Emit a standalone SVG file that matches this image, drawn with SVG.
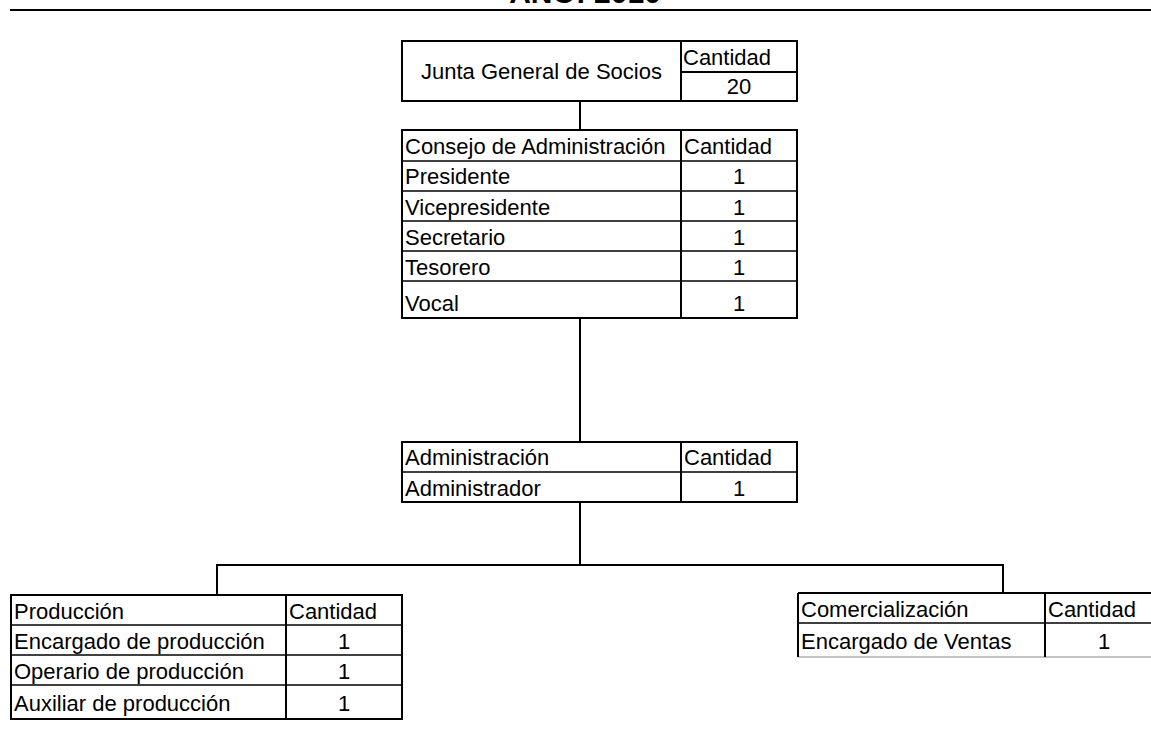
<svg xmlns="http://www.w3.org/2000/svg" width="1151" height="742" viewBox="0 0 1151 742">
<style>
text{font-family:"Liberation Sans",Arial,sans-serif;font-size:22px;fill:#000}
.t{font-weight:bold;font-size:30px}
.c{text-anchor:middle}
.b{fill:#fff;stroke:#000;stroke-width:2}
.d{stroke:#000;stroke-width:2;fill:none}
.r{stroke:#000;stroke-width:1.3}
.g{stroke:#888;stroke-width:1}
</style>
<rect width="1151" height="742" fill="#fff"/>
<text class="t c" x="585" y="3">AÑO: 2010</text>
<line class="d" x1="10" y1="10" x2="1151" y2="10"/>
<g id="connectors">
<line class="d" x1="580" y1="101" x2="580" y2="130"/>
<line class="d" x1="580" y1="318" x2="580" y2="442"/>
<polyline class="d" points="580,502 580,565"/>
<polyline class="d" points="217,595 217,565 1003,565 1003,593"/>
</g>
<g id="junta">
<rect class="b" x="402" y="41" width="395" height="60"/>
<line class="d" x1="681" y1="41" x2="681" y2="101"/>
<line class="d" x1="681" y1="72" x2="797" y2="72"/>
<text class="c" x="541.5" y="79">Junta General de Socios</text>
<text x="683" y="65">Cantidad</text>
<text class="c" x="739" y="94">20</text>
</g>
<g id="consejo">
<rect class="b" x="402" y="130" width="395" height="188"/>
<line class="r" x1="402" y1="161" x2="797" y2="161"/>
<line class="r" x1="402" y1="191" x2="797" y2="191"/>
<line class="r" x1="402" y1="221" x2="797" y2="221"/>
<line class="r" x1="402" y1="251" x2="797" y2="251"/>
<line class="r" x1="402" y1="281" x2="797" y2="281"/>
<line class="d" x1="681" y1="130" x2="681" y2="318"/>
<text x="405" y="154">Consejo de Administración</text>
<text x="684" y="154">Cantidad</text>
<text x="405" y="184">Presidente</text><text class="c" x="739" y="184">1</text>
<text x="405" y="215">Vicepresidente</text><text class="c" x="739" y="215">1</text>
<text x="405" y="245">Secretario</text><text class="c" x="739" y="245">1</text>
<text x="405" y="275">Tesorero</text><text class="c" x="739" y="275">1</text>
<text x="405" y="311">Vocal</text><text class="c" x="739" y="311">1</text>
</g>
<g id="administracion">
<rect class="b" x="402" y="442" width="395" height="60"/>
<line class="r" x1="402" y1="472" x2="797" y2="472"/>
<line class="d" x1="681" y1="442" x2="681" y2="502"/>
<text x="405" y="465">Administración</text>
<text x="684" y="465">Cantidad</text>
<text x="405" y="496">Administrador</text><text class="c" x="739" y="496">1</text>
</g>
<g id="produccion">
<rect class="b" x="11" y="595" width="391" height="124"/>
<line class="r" x1="11" y1="625" x2="402" y2="625"/>
<line class="r" x1="11" y1="655" x2="402" y2="655"/>
<line class="r" x1="11" y1="685" x2="402" y2="685"/>
<line class="d" x1="286" y1="595" x2="286" y2="719"/>
<text x="14" y="619">Producción</text>
<text x="289" y="619">Cantidad</text>
<text x="14" y="649">Encargado de producción</text><text class="c" x="344" y="649">1</text>
<text x="14" y="679">Operario de producción</text><text class="c" x="344" y="679">1</text>
<text x="14" y="711">Auxiliar de producción</text><text class="c" x="344" y="711">1</text>
</g>
<g id="comercializacion">
<line class="g" x1="798" y1="657" x2="1152" y2="657"/>
<line class="d" x1="798" y1="593" x2="1152" y2="593"/>
<line class="r" x1="798" y1="623" x2="1152" y2="623"/>
<line class="d" x1="798" y1="593" x2="798" y2="657"/>
<line class="d" x1="1045" y1="593" x2="1045" y2="657"/>
<text x="801" y="617">Comercialización</text>
<text x="1048" y="617">Cantidad</text>
<text x="801" y="649">Encargado de Ventas</text><text class="c" x="1104" y="649">1</text>
</g>
</svg>
